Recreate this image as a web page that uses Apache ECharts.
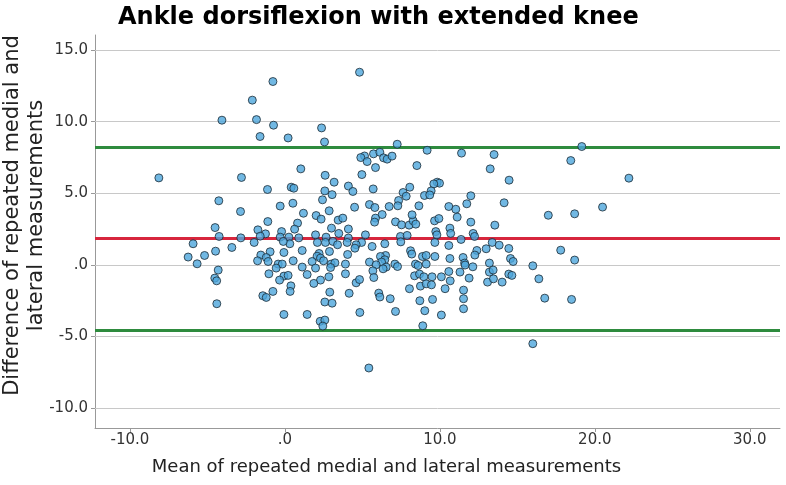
<!DOCTYPE html>
<html>
<head>
<meta charset="utf-8">
<script src="https://cdn.jsdelivr.net/npm/echarts@6/dist/echarts.min.js"></script>
<style>
  html, body { margin: 0; padding: 0; background: #fff; }
  #chart { width: 786px; height: 485px; }
</style>
</head>
<body>
<div id="chart"></div>
<script>
const meanVals = [
  -8.13, -2.8, -4.26, -2.86, -4.5, -4.24, -2.84, -5.92, -3.42, -4.47, -5.18, -6.24, -5.66, -4.3, -4.52, -4.4, -4.39, -4.06,
  -0.77, -2.1, -1.83, -0.73, 2.37, -1.6, 0.21, 2.56, 1.03, 2.6,
  4.82, 7.25, 9.18, 5.14, 4.9, 5.72, 6.13, 5.31, 6.37, 6.6, 6.92, 5.85, 8.52, 4.97,
  11.4, 13.5, 19.16, 18.45, 13.25,
  14.47, 22.2, 12.0, 10.58, 11.03, 11.74, 14.15, 11.12, 20.5, 17.0, 18.7, 12.0, 13.55, 10.65, 10.7, 12.15, 12.24, 11.37,
  13.38, 13.83, 10.58, 14.45, 12.99, 12.39, 17.8, 12.26, 10.65, 11.5, 14.56, 14.73, 18.7, 11.6, 13.2, 16.0, 11.63, 12.13,
  10.58, 11.3, 13.2, 13.44, 10.67, 11.89, 13.08, 13.46, 14.02, 14.45, 14.65, 16.39, 11.53, 11.53, 11.53, 16.77, 18.5, 16.0,
  3.18, -1.12, 0.41, 0.58, 2.58, 4.1, 3.05, 2.43, -0.3, 0.52, 2.86, 1.2, 2.02, 2.34, 3.44, 3.74, -1.1, 0.82, 0.63, 3.01,
  4.1, -1.74, -1.25, -0.21, 3.48, -1.59, -0.3, 0.26, 0.9, 1.98, 2.66, 4.1, -1.98, 0.32, -0.1, 2.1, 2.62, 3.1, 4.02, 3.4,
  -0.95, -0.06, 1.12, 2.88, 2.21, -1.55, -1.2, 2.08, 4.05, 2.3, -1.76, -1.08, 0.54, 1.76, 2.5, 2.99, 3.23, -0.43, -0.17,
  1.12, 3.91,
  -0.56, 1.98, 2.95, -1.03, -0.06, 0.21, -0.34, 1.44, 2.3, 1.87, 2.84, 3.91, 0.39, 0.34, -0.77, -1.42, -1.2, 2.9, 2.58,
  3.05, -0.06, 1.44, 2.28, 2.58, 2.45, 4.15,
  9.83, 9.98, 9.61, 5.7, 8.06, 7.63, 7.83, 9.44, 9.01, 9.35, 4.39, 7.34, 7.29, 5.46, 5.81, 6.73, 4.5, 8.65, 6.28, 5.85,
  5.79, 7.14, 7.53, 8.02, 8.28, 8.45, 8.21, 9.66, 9.94, 9.74, 9.81, 5.2, 7.46, 7.89, 7.48, 4.95, 4.6, 4.52, 6.45, 5.63,
  9.68, 8.11, 8.19, 6.5, 6.17, 8.88, 9.12, 9.68, 6.45, 6.24, 5.46, 7.1, 7.27, 8.43, 8.6, 9.12, 5.89, 6.54,
  5.68, 6.34, 4.6, 4.82, 5.74, 8.37, 8.69, 8.97, 9.5, 10.1, 8.75, 9.12, 9.46, 8.04, 10.34, 6.06, 6.13, 6.8, 8.71, 9.53,
  4.84, 7.14, 9.03, 10.1, 8.9, 5.42
]
const diffVals = [
  6.07, 6.1, 4.47, 3.72, 2.6, 1.98, 1.88, 1.47, 1.21, 0.95, 0.65, 0.54, 0.07, -0.37, -0.93, -1.12, -2.72, 10.1,
  12.8, 11.5, 10.14, 9.75, 9.56, 8.96, 8.86, 8.58, 6.7, 6.25,
  13.45, 8.42, 8.0, 7.6, 7.49, 7.75, 7.86, 7.21, 7.47, 7.38, 7.59, 6.79, 6.93, 6.3,
  7.8, 7.7, 8.26, 7.28, 6.7,
  5.91, 6.05, 4.82, 4.07, 3.88, 4.26, 4.33, 3.33, 4.03, 3.46, 3.56, 2.98, 2.77, 2.56, 2.19, 2.19, 1.98, 1.77,
  1.56, 1.37, 1.35, 1.14, 1.12, 1.0, 1.02, 0.68, 0.44, 0.51, 0.44, 0.23, 0.33, 0.12, 0.12, -0.07, -0.02, -0.14,
  -0.47, -0.51, -0.51, -0.37, -1.12, -0.93, -1.21, -0.98, -1.21, -0.65, -0.74, -0.98, -1.77, -2.37, -3.07, -2.33, -2.42, -5.51,
  5.77, 5.26, 5.42, 5.35, 5.16, 5.5, 4.9, 4.54, 4.1, 4.3, 3.77, 3.6, 3.44, 3.19, 3.12, 3.26, 3.02, 2.91, 2.49, 2.56,
  2.5, 2.44, 2.16, 2.32, 2.19, 2.0, 1.93, 1.93, 1.88, 2.09, 1.93, 1.87, 1.56, 1.47, 1.63, 1.56, 1.56, 1.63, 1.56, 1.4,
  0.91, 0.86, 1.0, 0.93, 0.79, 0.68, 0.51, 0.6, 0.72, 0.47, 0.28, 0.23, 0.28, 0.23, 0.28, 0.05, 0.14, 0.05, 0.05,
  -0.16, 0.05,
  -0.23, -0.23, -0.19, -0.63, -0.79, -0.74, -1.07, -0.68, -1.07, -1.3, -0.84, -0.63, -1.47, -1.86, -1.86, -2.16, -2.28, -1.91, -2.6,
  -2.68, -3.47, -3.47, -3.95, -3.86, -4.28, -1.99,
  5.77, 5.7, 5.65, 5.3, 5.42, 5.05, 4.79, 5.16, 4.84, 4.88, 5.12, 4.49, 4.12, 4.21, 4.0, 4.07, 4.02, 4.12, 3.51, 3.26,
  2.98, 3.0, 2.79, 2.77, 3.07, 2.84, 3.49, 3.07, 3.23, 2.32, 2.09, 2.09, 1.98, 2.05, 1.6, 1.56, 1.4, 1.16, 1.47, 1.28,
  1.56, 0.98, 0.75, 0.65, 0.58, 0.58, 0.65, 0.58, 0.35, 0.19, 0.19, 0.05, -0.12, 0.05, -0.05, 0.05, 0.0, -0.16,
  -0.42, -0.28, -1.26, -1.03, -0.89, -0.77, -0.65, -0.84, -0.84, -0.84, -1.49, -1.33, -1.4, -1.67, -1.67, -1.98, -2.25, -2.37, -2.51, -2.42,
  -3.33, -3.26, -3.21, -3.51, -4.26, -7.21
]

// mean difference and limits of agreement
const meanDiff = 1.84
const upperLimit = 8.2
const lowerLimit = -4.54

const xTicks = [-10, 0, 10, 20, 30]
const yTicks = [-10, -5, 0, 5, 10, 15]

const fmt = v => (v === 0 ? '.0' : v.toFixed(1))
const font = 'DejaVu Sans'

const points = meanVals.map((m, i) => [m, diffVals[i]])

const gridLines = yTicks.map(v => ({
  yAxis: v,
  lineStyle: { color: '#c8c8c8', width: 1, type: 'solid' }
}))
const refLines = [
  { yAxis: upperLimit, lineStyle: { color: '#2e8b3e', width: 3, type: 'solid' } },
  { yAxis: meanDiff, lineStyle: { color: '#d7263d', width: 3, type: 'solid' } },
  { yAxis: lowerLimit, lineStyle: { color: '#2e8b3e', width: 3, type: 'solid' } }
]

const chart = echarts.init(document.getElementById('chart'))

const option = {
  animation: false,
  title: {
    text: 'Ankle dorsiflexion with extended knee',
    left: 113,
    top: 1,
    textStyle: { fontFamily: font, fontSize: 24, fontWeight: 'bold', color: '#000' }
  },
  grid: { left: 95, right: 6, top: 35, bottom: 57, containLabel: false, outerBoundsMode: 'none' },
  xAxis: {
    type: 'value',
    min: -12.25,
    max: 31.95,
    name: 'Mean of repeated medial and lateral measurements',
    nameLocation: 'middle',
    nameGap: 30,
    nameTextStyle: { fontFamily: font, fontSize: 18, color: '#222', padding: [0, 102, 0, 0] },
    axisLine: { onZero: false, lineStyle: { color: '#999', width: 1 } },
    axisTick: { show: true, customValues: xTicks, length: 4, lineStyle: { color: '#999' } },
    axisLabel: { customValues: xTicks, formatter: fmt, fontFamily: font, fontSize: 15, color: '#333', margin: 5 },
    splitLine: { show: false }
  },
  yAxis: {
    type: 'value',
    min: -11.4,
    max: 16.05,
    name: 'Difference of repeated medial and\nlateral measurements',
    nameLocation: 'middle',
    nameGap: 46,
    nameMoveOverlap: false,
    nameRotate: 90,
    nameTextStyle: { fontFamily: font, fontSize: 21, color: '#222', lineHeight: 24, padding: [0, 0, 0, 32] },
    axisLine: { show: true, onZero: false, lineStyle: { color: '#999', width: 1 } },
    axisTick: { show: true, customValues: yTicks, length: 4, lineStyle: { color: '#999' } },
    axisLabel: { customValues: yTicks, formatter: fmt, fontFamily: font, fontSize: 15, color: '#333', margin: 7 },
    splitLine: { show: false }
  },
  series: [
    {
      type: 'scatter',
      data: points,
      symbol: 'circle',
      symbolSize: 8,
      z: 3,
      itemStyle: { color: '#4ea6dc', borderColor: '#1c2a35', borderWidth: 1 },
      markLine: {
        symbol: 'none',
        silent: true,
        z: 1,
        label: { show: false },
        data: gridLines.concat(refLines)
      }
    }
  ]
}

chart.setOption(option)
</script>
</body>
</html>
